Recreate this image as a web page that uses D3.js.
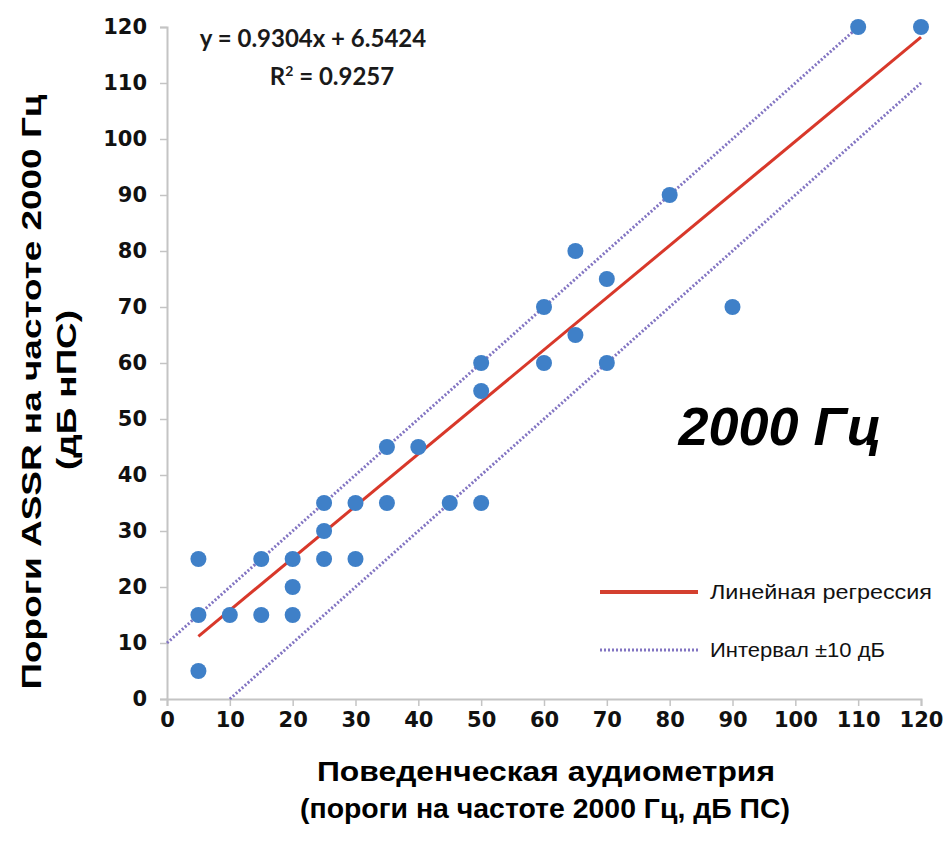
<!DOCTYPE html>
<html>
<head>
<meta charset="utf-8">
<script src="https://cdn.jsdelivr.net/npm/d3@7"></script>
<style>
  body { margin: 0; background: #fff; }
  svg { display: block; }
</style>
</head>
<body>
<script>
// behavioural thresholds (x) vs ASSR thresholds (y), dB
var xs = [5, 5, 5, 10, 15, 15, 20, 20, 20, 25, 25, 25, 30, 30, 35, 35, 40, 45, 50, 50, 50, 60, 60, 65, 65, 70, 70, 80, 90, 110, 120];
var ys = [25, 15, 5, 15, 25, 15, 25, 20, 15, 35, 30, 25, 35, 25, 45, 35, 45, 35, 60, 55, 35, 70, 60, 80, 65, 75, 60, 90, 70, 120, 120];
var xTicks = [0, 10, 20, 30, 40, 50, 60, 70, 80, 90, 100, 110, 120];
var yTicks = [0, 10, 20, 30, 40, 50, 60, 70, 80, 90, 100, 110, 120];
var slope = 0.9304, intercept = 6.5424, r2 = 0.9257;
var regX = [5, 120];
var upperX = [0, 110], lowerX = [10, 120];
var legendLabels = ['Линейная регрессия', 'Интервал ±10 дБ'];

var
  width  = 949,
  height = 846,
  margin = {left: 167, right: 28, top: 27, bottom: 147};

var x = d3.scaleLinear().domain([0, 120]).range([margin.left, width - margin.right]);
var y = d3.scaleLinear().domain([0, 120]).range([height - margin.bottom, margin.top]);

var svg = d3.select('body').append('svg')
  .attr('width', width)
  .attr('height', height)
  .attr('viewBox', [0, 0, width, height].join(' '));

var tickFont = '"DejaVu Sans", Verdana, sans-serif';
var axisColor = '#c4c4c4';

// y axis
var ya = svg.append('g')
  .attr('transform', 'translate(' + x(0) + ',0)')
  .call(d3.axisLeft(y).tickValues(yTicks).tickSize(7).tickPadding(13));
// x axis
var xa = svg.append('g')
  .attr('transform', 'translate(0,' + y(0) + ')')
  .call(d3.axisBottom(x).tickValues(xTicks).tickSize(7).tickPadding(6));

[ya, xa].forEach(function (g) {
  g.select('.domain').attr('stroke', axisColor).attr('stroke-width', 2);
  g.selectAll('.tick line').attr('stroke', axisColor).attr('stroke-width', 1.5);
  g.selectAll('.tick text')
    .attr('fill', '#111')
    .style('font-family', tickFont)
    .style('font-weight', 'bold')
    .style('font-size', '21px');
});

var line = d3.line().x(function (d) { return x(d[0]); }).y(function (d) { return y(d[1]); });

// ±10 dB interval lines
var band = [
  upperX.map(function (v) { return [v, v + 10]; }),
  lowerX.map(function (v) { return [v, v - 10]; })
];
svg.selectAll('.band')
  .data(band)
  .enter().append('path')
  .attr('class', 'band')
  .attr('d', line)
  .attr('fill', 'none')
  .attr('stroke', '#8274c2')
  .attr('stroke-width', 3)
  .attr('stroke-dasharray', '2,2');

// regression line
svg.append('path')
  .datum(regX.map(function (v) { return [v, slope * v + intercept]; }))
  .attr('d', line)
  .attr('fill', 'none')
  .attr('stroke', '#d8382a')
  .attr('stroke-width', 3);

// points
svg.selectAll('.pt')
  .data(xs.map(function (v, i) { return [v, ys[i]]; }))
  .enter().append('circle')
  .attr('class', 'pt')
  .attr('cx', function (d) { return x(d[0]); })
  .attr('cy', function (d) { return y(d[1]); })
  .attr('r', 8)
  .attr('fill', '#3f80c8');

// equation
var eqFont = 'Lato, "Open Sans", sans-serif';
svg.append('text')
  .attr('x', 313).attr('y', 47)
  .attr('text-anchor', 'middle')
  .style('font-family', eqFont).style('font-weight', 'bold').style('font-size', '24px')
  .attr('fill', '#1a1a1a')
  .text('y = ' + slope + 'x + ' + intercept);
var r = svg.append('text')
  .attr('x', 332).attr('y', 85)
  .attr('text-anchor', 'middle')
  .style('font-family', eqFont).style('font-weight', 'bold').style('font-size', '24px')
  .attr('fill', '#1a1a1a');
r.append('tspan').text('R');
r.append('tspan').attr('dy', -9).style('font-size', '14px').text('2');
r.append('tspan').attr('dy', 9).text(' = ' + r2);

var sans = '"Liberation Sans", Arial, sans-serif';

// big label
svg.append('text')
  .attr('x', 780).attr('y', 445)
  .attr('text-anchor', 'middle')
  .style('font-family', sans)
  .style('font-weight', 'bold').style('font-style', 'italic').style('font-size', '54px')
  .attr('fill', '#000')
  .text('2000 Гц');

// legend
var legend = [
  {label: legendLabels[0], color: '#d4402f', dash: null, w: 4, len: 222},
  {label: legendLabels[1], color: '#8274c2', dash: '2,2', w: 3, len: 175}
];
var lg = svg.selectAll('.lg').data(legend).enter().append('g')
  .attr('class', 'lg')
  .attr('transform', function (d, i) { return 'translate(600,' + (592 + i * 58) + ')'; });
lg.append('line')
  .attr('x1', 0).attr('x2', 98)
  .attr('stroke', function (d) { return d.color; })
  .attr('stroke-width', function (d) { return d.w; })
  .attr('stroke-dasharray', function (d) { return d.dash; });
lg.append('text')
  .attr('x', 110).attr('dy', '0.36em')
  .attr('textLength', function (d) { return d.len; })
  .attr('lengthAdjust', 'spacingAndGlyphs')
  .style('font-family', sans)
  .style('font-size', '20px')
  .attr('fill', '#111')
  .text(function (d) { return d.label; });

// axis titles
function title(tx, ty, rot, len, txt) {
  svg.append('text')
    .attr('transform', 'translate(' + tx + ',' + ty + ')' + (rot ? ' rotate(-90)' : ''))
    .attr('text-anchor', 'middle')
    .attr('textLength', len)
    .attr('lengthAdjust', 'spacingAndGlyphs')
    .style('font-family', sans).style('font-weight', 'bold').style('font-size', '28px')
    .attr('fill', '#000')
    .text(txt);
}
title(546, 781, false, 458, 'Поведенческая аудиометрия');
title(545, 818, false, 490, '(пороги на частоте 2000 Гц, дБ ПС)');
title(41, 392, true, 595, 'Пороги ASSR на частоте 2000 Гц');
title(76, 390, true, 160, '(дБ нПС)');
</script>
</body>
</html>
